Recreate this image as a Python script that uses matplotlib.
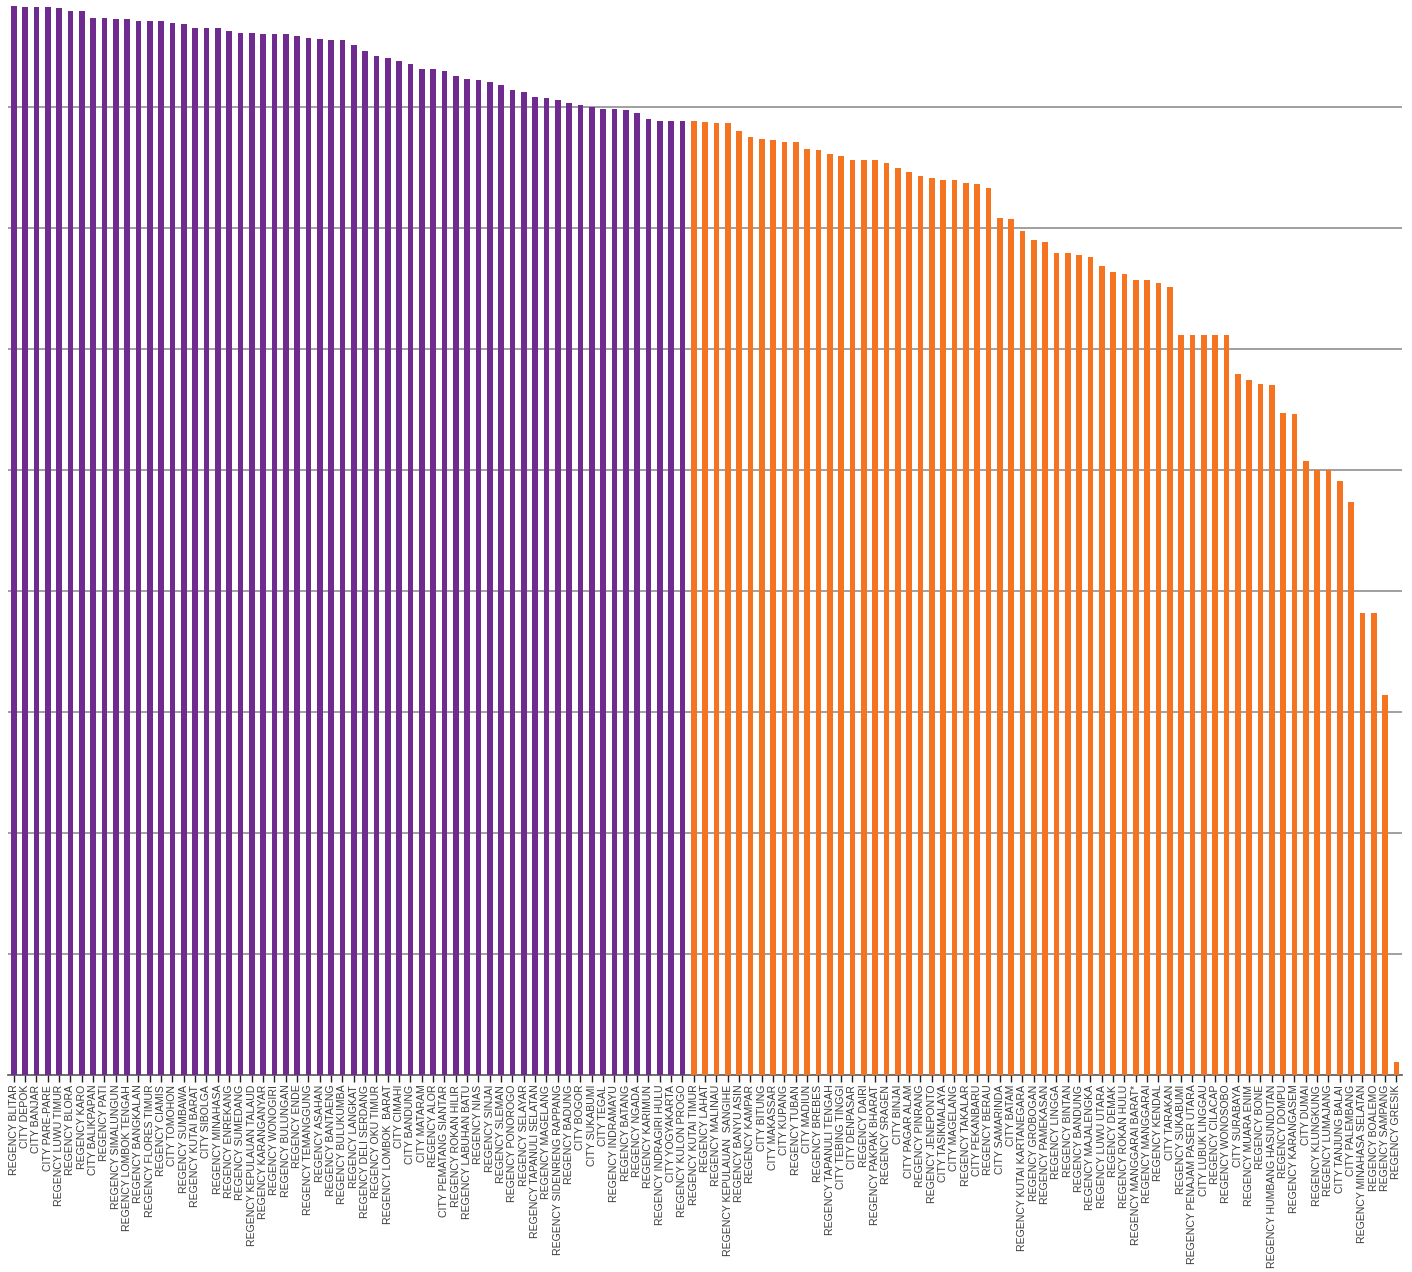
import numpy as np
import matplotlib
matplotlib.use('Agg')
import matplotlib.pyplot as plt

regions = [
    "REGENCY BLITAR", "CITY DEPOK", "CITY BANJAR", "CITY PARE-PARE", "REGENCY LUWU TIMUR",
    "REGENCY BLORA", "REGENCY KARO", "CITY BALIKPAPAN", "REGENCY PATI", "REGENCY SIMALUNGUN",
    "REGENCY LOMBOK TENGAH", "REGENCY BANGKALAN", "REGENCY FLORES TIMUR", "REGENCY CIAMIS",
    "CITY TOMOHON", "REGENCY SUMBAWA", "REGENCY KUTAI BARAT", "CITY SIBOLGA", "REGENCY MINAHASA",
    "REGENCY ENREKANG", "REGENCY SUMEDANG", "REGENCY KEPULAUAN TALAUD", "REGENCY KARANGANYAR",
    "REGENCY WONOGIRI", "REGENCY BULUNGAN", "REGENCY ENDE", "REGENCY TEMANGGUNG", "REGENCY ASAHAN",
    "REGENCY BANTAENG", "REGENCY BULUKUMBA", "REGENCY LANGKAT", "REGENCY DELI SERDANG",
    "REGENCY OKU TIMUR", "REGENCY LOMBOK  BARAT", "CITY CIMAHI", "CITY BANDUNG", "CITY MATARAM",
    "REGENCY ALOR", "CITY PEMATANG SIANTAR", "REGENCY ROKAN HILIR", "REGENCY LABUHAN BATU",
    "REGENCY NIAS", "REGENCY SINJAI", "REGENCY SLEMAN", "REGENCY PONOROGO", "REGENCY SELAYAR",
    "REGENCY TAPANULI SELATAN", "REGENCY MAGELANG", "REGENCY SIDENRENG RAPPANG", "REGENCY BADUNG",
    "CITY BOGOR", "CITY SUKABUMI", "CITY TEGAL", "REGENCY INDRAMAYU", "REGENCY BATANG",
    "REGENCY NGADA", "REGENCY KARIMUN", "REGENCY INDRAGIRI HULU", "CITY YOGYAKARTA",
    "REGENCY KULON PROGO", "REGENCY KUTAI TIMUR", "REGENCY LAHAT", "REGENCY MALINAU",
    "REGENCY KEPULAUAN  SANGIHE", "REGENCY BANYU ASIN", "REGENCY KAMPAR", "CITY BITUNG",
    "CITY MAKASSAR", "CITY KUPANG", "REGENCY TUBAN", "CITY MADIUN", "REGENCY BREBES",
    "REGENCY TAPANULI TENGAH", "CITY TEBING TINGGI", "CITY DENPASAR", "REGENCY DAIRI",
    "REGENCY PAKPAK BHARAT", "REGENCY SRAGEN", "CITY BINJAI", "CITY PAGAR ALAM", "REGENCY PINRANG",
    "REGENCY JENEPONTO", "CITY TASIKMALAYA", "CITY MAGELANG", "REGENCY TAKALAR", "CITY PEKANBARU",
    "REGENCY BERAU", "CITY SAMARINDA", "CITY BATAM", "REGENCY KUTAI KARTANEGARA",
    "REGENCY GROBOGAN", "REGENCY PAMEKASAN", "REGENCY LINGGA", "REGENCY BINTAN",
    "REGENCY BANDUNG", "REGENCY MAJALENGKA", "REGENCY LUWU UTARA", "REGENCY DEMAK",
    "REGENCY ROKAN HULU", "REGENCY MANGGARAI BARAT*", "REGENCY MANGGARAI", "REGENCY KENDAL",
    "CITY TARAKAN", "REGENCY SUKABUMI", "REGENCY PENAJAM PASER UTARA", "CITY LUBUK LINGGAU",
    "REGENCY CILACAP", "REGENCY WONOSOBO", "CITY SURABAYA", "REGENCY MUARA ENIM", "REGENCY BONE",
    "REGENCY HUMBANG HASUNDUTAN", "REGENCY DOMPU", "REGENCY KARANGASEM", "CITY DUMAI",
    "REGENCY KLUNGKUNG", "REGENCY LUMAJANG", "CITY TANJUNG BALAI", "CITY PALEMBANG",
    "REGENCY MINAHASA SELATAN", "REGENCY BOALEMO", "REGENCY SAMPANG", "REGENCY GRESIK",
]

scores = [
    8.83, 8.82, 8.82, 8.82, 8.81, 8.79, 8.79, 8.73, 8.73, 8.72,
    8.72, 8.71, 8.71, 8.71, 8.69, 8.68, 8.65, 8.65, 8.65, 8.62,
    8.61, 8.61, 8.60, 8.60, 8.60, 8.58, 8.57, 8.56, 8.55, 8.55,
    8.51, 8.46, 8.42, 8.40, 8.38, 8.35, 8.31, 8.31, 8.29, 8.25,
    8.23, 8.22, 8.20, 8.18, 8.14, 8.12, 8.08, 8.07, 8.05, 8.03,
    8.01, 8.00, 7.98, 7.98, 7.97, 7.95, 7.90, 7.88, 7.88, 7.88,
    7.88, 7.87, 7.86, 7.86, 7.80, 7.75, 7.73, 7.72, 7.71, 7.71,
    7.65, 7.64, 7.61, 7.59, 7.56, 7.56, 7.56, 7.53, 7.49, 7.46,
    7.43, 7.41, 7.39, 7.39, 7.37, 7.36, 7.33, 7.08, 7.07, 6.97,
    6.90, 6.88, 6.79, 6.79, 6.77, 6.76, 6.68, 6.63, 6.62, 6.57,
    6.57, 6.54, 6.51, 6.11, 6.11, 6.11, 6.11, 6.11, 5.79, 5.74,
    5.71, 5.70, 5.47, 5.46, 5.07, 5.00, 5.00, 4.91, 4.73, 3.82,
    3.82, 3.14, 0.11,
]

# first group drawn purple, the rest orange
n_top = 60
colors = ['#6f2b8f'] * n_top + ['#f47421'] * (len(scores) - n_top)

fig = plt.figure(figsize=(14.12, 12.72), dpi=100)
ax = fig.add_axes([8 / 1412, 197 / 1272, 1394 / 1412, 1075 / 1272])

x = np.arange(len(regions))
ax.bar(x, scores, width=0.5, color=colors, zorder=3)

ax.set_xlim(-0.5, len(regions) - 0.5)
ax.set_ylim(0, 8.88)
ax.set_yticks(np.arange(1, 9))
ax.yaxis.grid(True, color='#a0a0a0', linewidth=1.4, zorder=0)
ax.tick_params(axis='y', length=0, labelleft=False)

ax.set_xticks(x)
ax.set_xticklabels(regions, rotation=90, fontsize=7.6, family='Liberation Sans', color='#3a3a3a')
ax.tick_params(axis='x', length=5, width=1, color='#222222', pad=2)

for side in ['top', 'right', 'left']:
    ax.spines[side].set_visible(False)
ax.spines['bottom'].set_color('#555555')
ax.spines['bottom'].set_linewidth(1.2)

fig.savefig('out.png', dpi=100)
